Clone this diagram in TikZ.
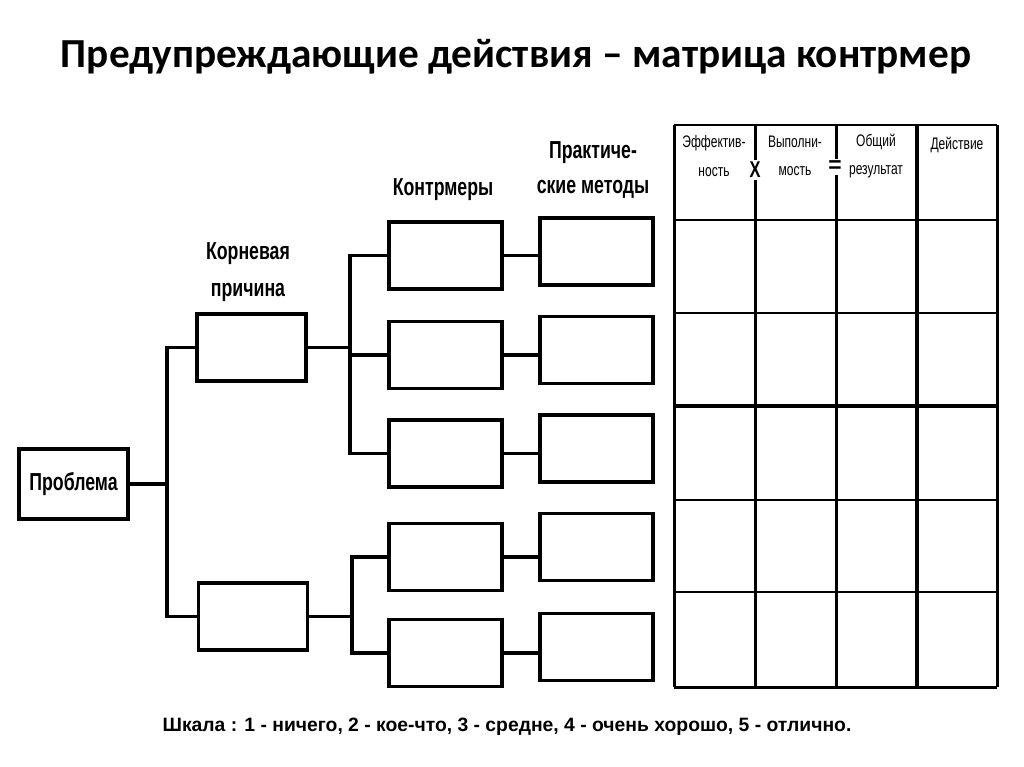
\documentclass[tikz,border=0pt]{standalone}
\usepackage{fontspec}
\setmainfont{Liberation Sans}
\newfontfamily\titlefont{Carlito}
\newfontfamily\narrowfont[FakeStretch=0.72]{Liberation Sans}
\usetikzlibrary{positioning}

\tikzset{
  box/.style={draw, line width=2.2pt, minimum width=2.18cm, minimum height=1.34cm, inner sep=0pt},
  widebox/.style={box, minimum width=2.26cm},
  wire/.style={line width=2.2pt},
  grid/.style={line width=1.7pt},
  head/.style={font=\narrowfont\bfseries\fontsize{14}{21}\selectfont, align=center},
  colhead/.style={font=\narrowfont\fontsize{9.5}{16}\selectfont, align=center},
}

\begin{document}
\begin{tikzpicture}[x=0.02cm, y=-0.02cm]
    \useasboundingbox (0,0) rectangle (1024,767);
    \node [anchor=base, font=\titlefont\bfseries\fontsize{23.5}{26}\selectfont] (title) at (516,68)
        {Предупреждающие действия – матрица контрмер};

    \node [box, minimum height=1.4cm, font=\narrowfont\bfseries\fontsize{14}{16}\selectfont] (prob) at (73.5,484) {Проблема};
    \node [box] (rc1) at (251.5,347.5) {};
    \node [box] (rc2) at (253,616.5) {};
    \node [widebox] (cm1) at (445.5,255.5) {};
    \node [widebox] (cm2) at (445.5,355) {};
    \node [widebox] (cm3) at (445.5,453.5) {};
    \node [widebox] (cm4) at (445.5,557) {};
    \node [widebox] (cm5) at (445.5,653) {};
    \node [widebox] (pm1) at (596.5,251.5) {};
    \node [widebox] (pm2) at (596.5,350) {};
    \node [widebox] (pm3) at (596.5,448.5) {};
    \node [widebox] (pm4) at (596.5,547) {};
    \node [widebox] (pm5) at (596.5,647) {};

    \node [head] (lrc) at (248,272) {Корневая\\причина};
    \node [head] (lcm) at (443,190) {Контрмеры};
    \node [head, font=\narrowfont\bfseries\fontsize{14}{20}\selectfont] (lpm) at (593,170) {Практиче-\\ские методы};

    \coordinate (j1) at (167,485);
    \coordinate (j2) at (350,353);
    \coordinate (j3) at (352,614);
    \draw [wire] (prob.east) -- (prob.east -| j1);
    \draw [wire] (rc1.west) -| (j1) |- (rc2.west);
    \draw [wire] (rc1.east) -- (rc1.east -| j2);
    \draw [wire] (cm1.west) -| (j2) |- (cm3.west);
    \draw [wire] (cm2.west) -- (cm2.west -| j2);
    \draw [wire] (rc2.east) -- (rc2.east -| j3);
    \draw [wire] (cm4.west) -| (j3) |- (cm5.west);
    \foreach \i in {1,...,5}
        \draw [wire] (cm\i.east) -- (cm\i.east -| pm\i.west);

    \foreach \y in {125,220,313,500,592,687}
        \draw [grid] (674,\y) -- (997,\y);
    \draw [grid, line width=2.8pt] (674,406) -- (997,406);
    \foreach \x in {674,755,836,997}
        \draw [grid] (\x,125) -- (\x,687);
    \draw [grid, line width=2.4pt] (917,125) -- (917,687);

    \node [colhead] (heff) at (714,156) {Эффектив-\\ность};
    \node [colhead] (hdo) at (795,156) {Выполни-\\мость};
    \node [colhead] (hres) at (876,156) {Общий\\результат};
    \node [colhead] (hact) at (957,145) {Действие};
    \node [fill=white, inner sep=1pt, font=\narrowfont\bfseries\fontsize{13}{14}\selectfont] (times) at (755,170) {X};
    \node [fill=white, inner sep=1pt, font=\bfseries\fontsize{13}{14}\selectfont] (eq) at (835,167) {=};

    \node [font=\bfseries\fontsize{11}{13}\selectfont] (scale) at (507,727)
        {Шкала : 1 - ничего, 2 - кое-что, 3 - средне, 4 - очень хорошо, 5 - отлично.};
\end{tikzpicture}
\end{document}
